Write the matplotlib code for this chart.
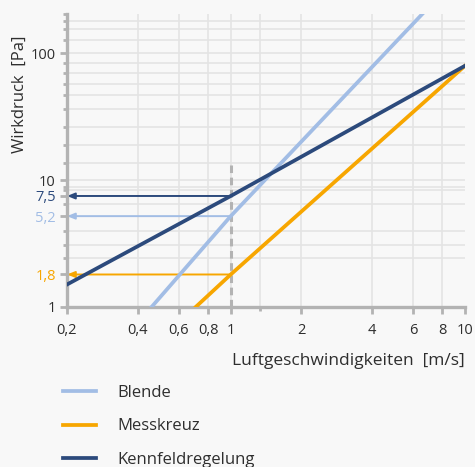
import matplotlib
matplotlib.use("Agg")
import matplotlib.pyplot as plt
from matplotlib.ticker import FixedLocator, NullFormatter

plt.rcParams['font.family'] = ['Open Sans', 'DejaVu Sans']

# data (velocity in m/s, pressure in Pa)
blende_v = [0.46, 1.0, 6.57]
blende_p = [1.0, 5.2, 205.0]
messkreuz_v = [0.71, 1.0, 10.0]
messkreuz_p = [1.0, 1.8, 80.0]
kennfeld_v = [0.2, 1.0, 10.0]
kennfeld_p = [1.5, 7.5, 80.0]

labels = ["Blende", "Messkreuz", "Kennfeldregelung"]
readings = [5.2, 1.8, 7.5]   # values at 1 m/s
reading_labels = ["5,2", "1,8", "7,5"]

x_ticks = [0.2, 0.4, 0.6, 0.8, 1, 2, 4, 6, 8, 10]
x_ticklabels = ["0,2", "0,4", "0,6", "0,8", "1", "2", "4", "6", "8", "10"]
x_grid = [0.4, 0.6, 0.8, 1, 1.33, 2, 4, 6, 8]
y_grid = [2.45, 3.05, 4.0, 6.5, 8.3, 8.85, 10, 13.7, 19, 26.2, 36.2, 47.3,
          57.7, 70, 83.6, 100, 127, 157, 179]

c_light = "#a2bde5"
c_orange = "#f7a600"
c_dark = "#2c4a7c"
c_axis = "#b3b3b3"
c_grid = "#e4e4e4"
c_text = "#2e2e2e"
bg = "#f8f8f8"

fig = plt.figure(figsize=(4.75, 4.67), dpi=100, facecolor=bg)
ax = fig.add_axes([0.141, 0.343, 0.838, 0.627], facecolor=bg)
ax.set_xscale("log")
ax.set_yscale("log")
ax.set_xlim(0.2, 10)
ax.set_ylim(1, 205)

for g in x_grid:
    ax.axvline(g, color=c_grid, lw=1.2, zorder=0)
for g in y_grid:
    ax.axhline(g, color=c_grid, lw=1.2, zorder=0)

# dashed reference at 1 m/s
ax.plot([1, 1], [1, 13.1], color=c_axis, lw=2.2, ls=(0, (2.5, 1.5)), zorder=1)

ax.plot(blende_v, blende_p, color=c_light, lw=2.7, label=labels[0], zorder=3)
ax.plot(messkreuz_v, messkreuz_p, color=c_orange, lw=2.7, label=labels[1], zorder=3)
ax.plot(kennfeld_v, kennfeld_p, color=c_dark, lw=2.7, label=labels[2], zorder=3)

# arrows from 1 m/s to the pressure axis
for val, col in zip(readings, [c_light, c_orange, c_dark]):
    ax.annotate("", xy=(0.2, val), xytext=(1, val),
                arrowprops=dict(arrowstyle="-|>,head_length=0.45,head_width=0.18",
                                color=col, lw=1.4, shrinkA=0, shrinkB=0),
                zorder=2, annotation_clip=False)

for side in ["top", "right"]:
    ax.spines[side].set_visible(False)
for side in ["left", "bottom"]:
    ax.spines[side].set_color(c_axis)
    ax.spines[side].set_linewidth(2.4)

ax.xaxis.set_major_locator(FixedLocator(x_ticks))
ax.set_xticklabels(x_ticklabels)
ax.xaxis.set_minor_locator(FixedLocator([1.33]))
ax.xaxis.set_minor_formatter(NullFormatter())

y_major = [1, 1.8, 5.2, 7.5, 10, 100]
y_major_labels = ["1", "1,8", "5,2", "7,5", "10", "100"]
ax.yaxis.set_major_locator(FixedLocator(y_major))
ax.set_yticklabels(y_major_labels)
ax.yaxis.set_minor_locator(FixedLocator(y_grid + [205]))
ax.yaxis.set_minor_formatter(NullFormatter())

ax.tick_params(axis="both", which="major", length=5, width=2, color=c_axis,
               labelsize=10.5, labelcolor=c_text, pad=3)
ax.tick_params(axis="both", which="minor", length=3, width=2, color=c_axis)
ax.tick_params(axis="x", which="major", pad=7)

label_colors = {"1,8": c_orange, "5,2": c_light, "7,5": c_dark}
for t in ax.get_yticklabels():
    if t.get_text() in label_colors:
        t.set_color(label_colors[t.get_text()])

fig.text(0.979, 1 - 361 / 467, "Luftgeschwindigkeiten  [m/s]", ha="right",
         va="center", fontsize=12.5, color=c_text)
fig.text(19.5 / 475, 1 - 94 / 467, "Wirkdruck  [Pa]", rotation=90, ha="center",
         va="center", fontsize=12, color=c_text)

fig.legend(loc="upper left", bbox_to_anchor=(63 / 475, 1 - 385 / 467),
           frameon=False, fontsize=12, labelcolor=c_text,
           borderpad=0, borderaxespad=0,
           handlelength=2.0, handletextpad=1.25, labelspacing=1.05)

fig.savefig("out.png", dpi=100, facecolor=bg)
